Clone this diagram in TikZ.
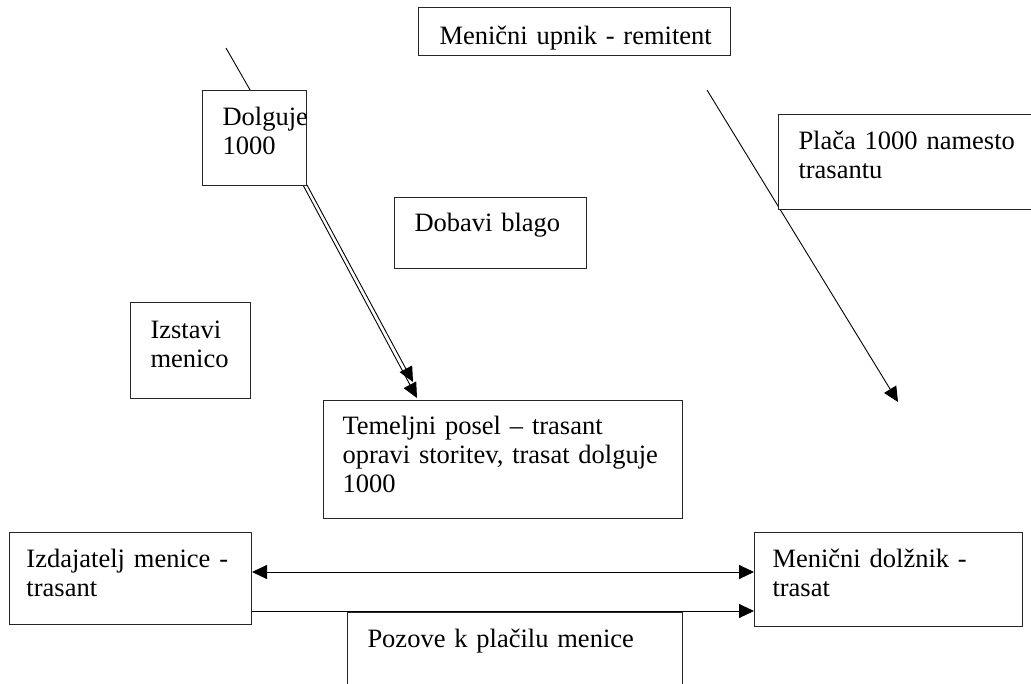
\documentclass[tikz,border=0pt]{standalone}
\usepackage{fontspec}
\setmainfont{Liberation Serif}
\usetikzlibrary{arrows.meta,calc}
\begin{document}
\begin{tikzpicture}[x=1pt,y=-1pt,line width=1pt,
  box/.style={draw=black!85,fill=white,inner sep=0pt,anchor=north west},
  txt/.style={anchor=base west,align=left,inner sep=0pt,text width=420pt,
    font=\fontsize{26.5}{29.3}\selectfont},
  conn/.style={draw=black,line width=0.9pt},
  tipA/.tip={Triangle[length=15pt,width=14pt]},
  arr/.style={conn,-tipA},
  darr/.style={conn,tipA-tipA}]
\useasboundingbox (0,0) rectangle (1031,683);
\clip (0,0) rectangle (1031,683);
% free ends of connectors
\coordinate (dtop) at (226,48);
\coordinate (dmid) at (261,109);
\coordinate (rtop) at (707,90);
\coordinate (rtip) at (898,402);
\coordinate (dA) at (307,185);
\coordinate (dB) at (303,185);
\coordinate (eA) at (413,382);
\coordinate (eB) at (417,398);
% connectors drawn behind the boxes
\draw[conn] (dtop) -- (dmid);
\draw[arr] (rtop) -- (rtip);
\draw[arr] (dA) -- (eA);
\draw[arr] (dB) -- (eB);
% boxes
\node[box,minimum width=312pt,minimum height=48pt] (upn) at (418,7) {};
\node[box,minimum width=104pt,minimum height=95pt] (dol) at (202,90) {};
\node[box,minimum width=300pt,minimum height=95pt] (pla) at (778,114) {};
\node[box,minimum width=192pt,minimum height=71pt] (dob) at (394,197) {};
\node[box,minimum width=120pt,minimum height=96pt] (izs) at (130,302) {};
\node[box,minimum width=359pt,minimum height=118pt] (tem) at (323,400) {};
\node[box,minimum width=242pt,minimum height=92pt] (izd) at (9,532) {};
\node[box,minimum width=268pt,minimum height=94pt] (mdo) at (754,532) {};
\node[box,minimum width=335pt,minimum height=100pt] (poz) at (347,612) {};
% texts
\node[txt] (tupn) at ($(upn.north west)+(21,37)$) {Menični upnik - remitent};
\node[txt] (tdol) at ($(dol.north west)+(20,35)$) {Dolguje\\1000};
\node[txt] (tpla) at ($(pla.north west)+(20,35)$) {Plača 1000 namesto\\trasantu};
\node[txt] (tdob) at ($(dob.north west)+(20,34)$) {Dobavi blago};
\node[txt] (tizs) at ($(izs.north west)+(20,36)$) {Izstavi\\menico};
\node[txt] (ttem) at ($(tem.north west)+(19,34)$) {Temeljni posel – trasant\\opravi storitev, trasat dolguje\\1000};
\node[txt] (tizd) at ($(izd.north west)+(17,35)$) {Izdajatelj menice -\\trasant};
\node[txt] (tmdo) at ($(mdo.north west)+(18,35)$) {Menični dolžnik -\\trasat};
\node[txt] (tpoz) at ($(poz.north west)+(20,35)$) {Pozove k plačilu menice};
% horizontal connectors between the two parties
\draw[darr] (izd.east |- 0,572) -- (mdo.west |- 0,572);
\draw[arr] (izd.east |- 0,611) -- (mdo.west |- 0,611);
\end{tikzpicture}
\end{document}
